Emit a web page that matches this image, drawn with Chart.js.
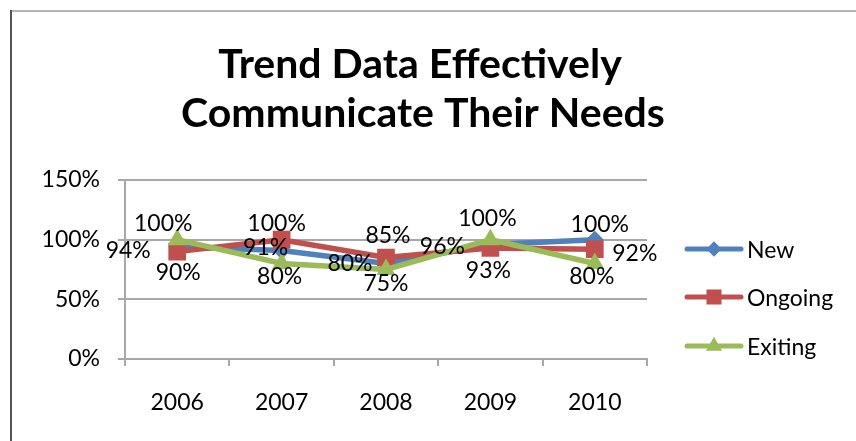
<!DOCTYPE html>
<html>
<head>
<meta charset="utf-8">
<script src="https://cdn.jsdelivr.net/npm/chart.js@4.4.0/dist/chart.umd.min.js"></script>
<style>
  html, body { margin: 0; padding: 0; background: #fff; }
  #wrap { width: 856px; height: 441px; position: relative; }
</style>
</head>
<body>
<div id="wrap"><canvas id="trend" width="856" height="441"></canvas></div>
<script>
var years = ['2006', '2007', '2008', '2009', '2010'];
var seriesNames = ['New', 'Ongoing', 'Exiting'];
var newVals = [0.94, 0.91, 0.80, 0.96, 1.00];
var ongoingVals = [0.90, 1.00, 0.85, 0.93, 0.92];
var exitingVals = [1.00, 0.80, 0.75, 1.00, 0.80];
var yTicks = [0, 0.5, 1, 1.5];
var titleLines = ['Trend Data Effectively', 'Communicate Their Needs'];

// where each value label sits relative to its point (px)
var newNudge = [[-49, 4], [-16, -3], [-36, 0], [-48, 2], [5, -15]];
var ongoingNudge = [[1, 21], [-5, -16], [2, -22], [-2, 23], [40, 4]];
var exitingNudge = [[-14, -16], [-2, 13], [0, 14], [-3, -21], [-3, 13]];

var blue = '#4F81BD', red = '#C0504D', green = '#9BBB59';
var gridCol = '#a8a8a8';
var fontFam = 'Lato, "Open Sans", sans-serif';
var txtSize = 23;

function pct(v) { return Math.round(v * 100) + '%'; }

var extras = {
  id: 'extras',
  beforeDraw: function(chart) {
    var ctx = chart.ctx;
    ctx.save();
    ctx.fillStyle = '#fff';
    ctx.fillRect(0, 0, chart.width, chart.height);
    // frame round the chart
    ctx.strokeStyle = '#b4b4b4';
    ctx.lineWidth = 2;
    ctx.beginPath(); ctx.moveTo(10, 11); ctx.lineTo(chart.width, 11); ctx.stroke();
    ctx.strokeStyle = '#555';
    ctx.beginPath(); ctx.moveTo(11, 10); ctx.lineTo(11, chart.height); ctx.stroke();
    ctx.restore();
  },
  afterDraw: function(chart) {
    var ctx = chart.ctx;
    ctx.save();
    // title
    ctx.fillStyle = '#000';
    ctx.textAlign = 'center';
    ctx.textBaseline = 'alphabetic';
    ctx.font = 'bold 41px ' + fontFam;
    ctx.fillText(titleLines[0], 420, 78);
    ctx.fillText(titleLines[1], 423, 127);

    // value labels
    ctx.font = txtSize + 'px ' + fontFam;
    ctx.textBaseline = 'middle';
    var nudges = [newNudge, ongoingNudge, exitingNudge];
    chart.data.datasets.forEach(function(ds, i) {
      var meta = chart.getDatasetMeta(i);
      meta.data.forEach(function(pt, j) {
        ctx.fillText(pct(ds.data[j]), pt.x + nudges[i][j][0], pt.y + nudges[i][j][1]);
      });
    });

    // legend
    var ly = [249, 297, 346];
    ctx.textAlign = 'left';
    chart.data.datasets.forEach(function(ds, i) {
      ctx.strokeStyle = ds.borderColor;
      ctx.lineWidth = 5;
      ctx.lineCap = 'round';
      ctx.beginPath(); ctx.moveTo(687, ly[i]); ctx.lineTo(741, ly[i]); ctx.stroke();
      ctx.fillStyle = ds.pointBackgroundColor;
      Chart.helpers.drawPoint(ctx, {pointStyle: ds.pointStyle, radius: ds.pointRadius * 0.85, borderWidth: 0, rotation: 0}, 714, ly[i]);
      ctx.fillStyle = '#000';
      ctx.fillText(ds.label, 747, ly[i] + 2);
    });
    ctx.restore();
  }
};

function lineSet(label, vals, col, style, r, ord) {
  return {
    label: label,
    data: vals,
    borderColor: col,
    backgroundColor: col,
    pointBackgroundColor: col,
    pointBorderColor: col,
    pointBorderWidth: 0,
    pointStyle: style,
    pointRadius: r,
    borderWidth: 5.5,
    tension: 0,
    order: ord
  };
}

new Chart(document.getElementById('trend'), {
  type: 'line',
  data: {
    labels: years,
    datasets: [
      lineSet(seriesNames[0], newVals, blue, 'rectRot', 9, 2),
      lineSet(seriesNames[1], ongoingVals, red, 'rect', 12.5, 1),
      lineSet(seriesNames[2], exitingVals, green, 'triangle', 11, 0)
    ]
  },
  options: {
    responsive: false,
    animation: false,
    devicePixelRatio: 1,
    layout: { padding: { top: 180, right: 209, bottom: 0, left: 0 } },
    plugins: { legend: { display: false }, title: { display: false }, tooltip: { enabled: false } },
    scales: {
      x: {
        offset: true,
        grid: { offset: true, drawOnChartArea: false, drawTicks: true, tickLength: 7, color: gridCol, lineWidth: 2 },
        border: { color: gridCol, width: 2 },
        ticks: { color: '#000', font: { family: fontFam, size: txtSize }, padding: 23, maxRotation: 0 },
        afterFit: function(s) { s.height = 82; }
      },
      y: {
        min: 0,
        max: 1.5,
        afterBuildTicks: function(s) { s.ticks = yTicks.map(function(v) { return { value: v }; }); },
        grid: { color: gridCol, lineWidth: 2, tickLength: 7 },
        border: { color: gridCol, width: 2 },
        ticks: { color: '#000', font: { family: fontFam, size: txtSize }, padding: 18, callback: function(v) { return pct(v); } },
        afterFit: function(s) { s.width = 125; }
      }
    }
  },
  plugins: [extras]
});
</script>
</body>
</html>
